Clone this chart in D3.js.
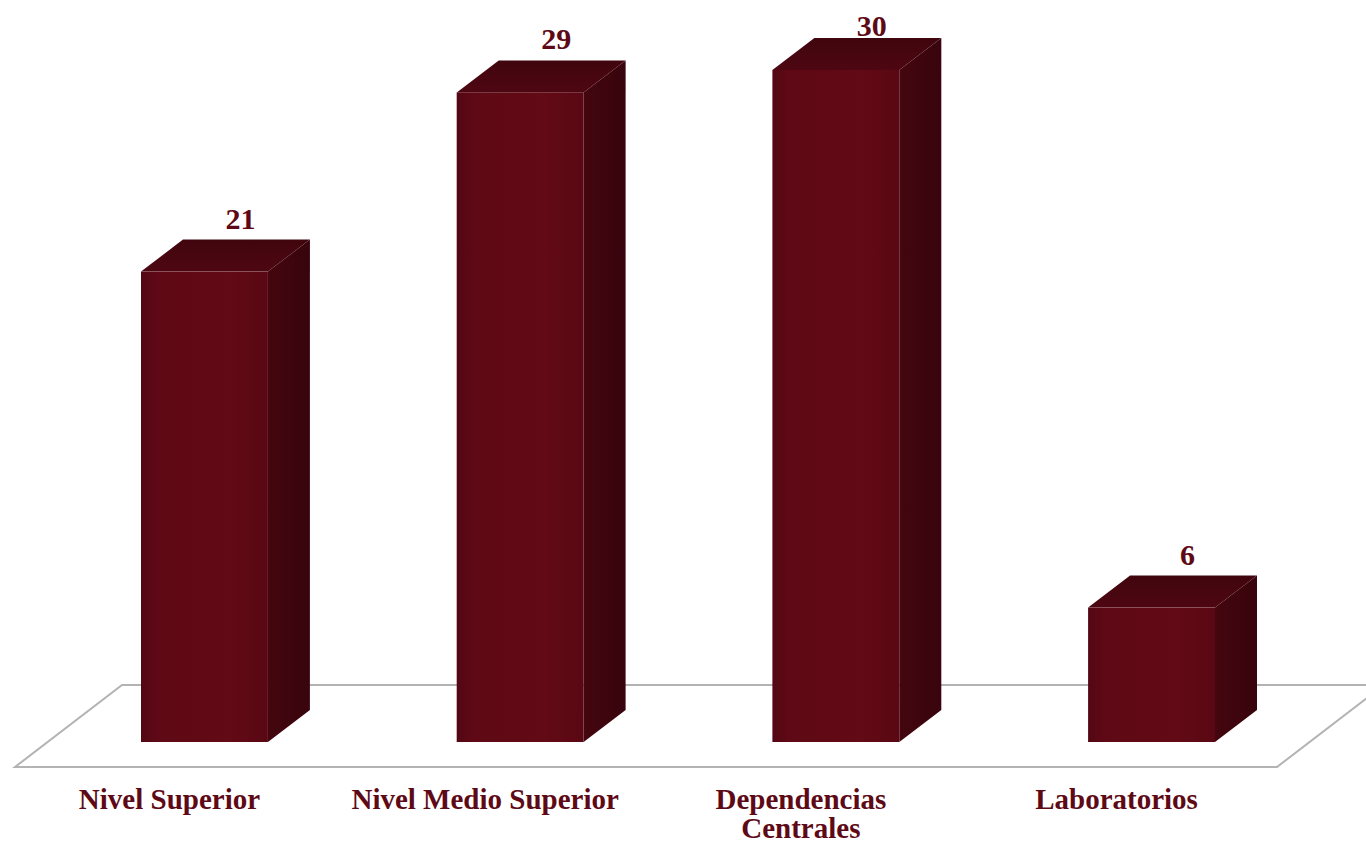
<!DOCTYPE html>
<html>
<head>
<meta charset="utf-8">
<script src="https://cdn.jsdelivr.net/npm/d3@7"></script>
<style>
  html, body { margin: 0; padding: 0; background: #fff; overflow: hidden; }
  svg { display: block; }
  .lbl { font-family: "Liberation Serif", "Times New Roman", serif; font-weight: bold; fill: #5e0a16; }
</style>
</head>
<body>
<div id="chart"></div>
<script>
// 3D-style column chart: four categories on a grey floor plane
const categories = ['Nivel Superior', 'Nivel Medio Superior', 'Dependencias Centrales', 'Laboratorios'];
const categoryLines = [['Nivel Superior'], ['Nivel Medio Superior'], ['Dependencias', 'Centrales'], ['Laboratorios']];
const values = [21, 29, 30, 6];

const W = 1366, H = 845;
const DEPTH_X = 42, DEPTH_Y = -32;

const svg = d3.select('#chart').append('svg').attr('width', W).attr('height', H);

const x = d3.scaleBand().domain(categories).range([141, 1215]).paddingInner(0.598).paddingOuter(0);
const y = d3.scaleLinear().domain([0, 30]).range([742, 70]);

const defs = svg.append('defs');
const frontGrad = defs.append('linearGradient').attr('id', 'front').attr('x1', 0).attr('x2', 1).attr('y1', 0).attr('y2', 0);
frontGrad.append('stop').attr('offset', 0).attr('stop-color', '#530713');
frontGrad.append('stop').attr('offset', 0.12).attr('stop-color', '#5e0915');
frontGrad.append('stop').attr('offset', 0.7).attr('stop-color', '#620a16');
frontGrad.append('stop').attr('offset', 1).attr('stop-color', '#590813');
const sideGrad = defs.append('linearGradient').attr('id', 'side').attr('x1', 0).attr('x2', 1).attr('y1', 0).attr('y2', 0);
sideGrad.append('stop').attr('offset', 0).attr('stop-color', '#44060f');
sideGrad.append('stop').attr('offset', 1).attr('stop-color', '#38040d');
const topGrad = defs.append('linearGradient').attr('id', 'topface').attr('x1', 0).attr('x2', 0).attr('y1', 1).attr('y2', 0);
topGrad.append('stop').attr('offset', 0).attr('stop-color', '#4e0712');
topGrad.append('stop').attr('offset', 1).attr('stop-color', '#40050e');

// floor plane
const [r0, r1] = x.range();
const base = y(0);
const floorFront = base + 25, floorBack = base - 57;
const floorSlant = 107;
const floorPts = [
  [r0 - 126, floorFront], [r1 + 62, floorFront],
  [r1 + 62 + floorSlant, floorBack], [r0 - 126 + floorSlant, floorBack]
];
svg.append('polygon')
  .attr('points', floorPts.map(p => p.join(',')).join(' '))
  .attr('fill', '#ffffff')
  .attr('stroke', '#b3b3b3')
  .attr('stroke-width', 2);

const data = categories.map((c, i) => ({ c, v: values[i], lines: categoryLines[i] }));

const bars = svg.selectAll('g.bar').data(data).join('g').attr('class', 'bar');

bars.append('polygon') // side face
  .attr('points', d => {
    const x1 = x(d.c) + x.bandwidth(), yt = y(d.v);
    return [[x1, base], [x1, yt], [x1 + DEPTH_X, yt + DEPTH_Y], [x1 + DEPTH_X, base + DEPTH_Y]].map(p => p.join(',')).join(' ');
  })
  .attr('fill', 'url(#side)');

bars.append('polygon') // top face
  .attr('points', d => {
    const x0 = x(d.c), x1 = x0 + x.bandwidth(), yt = y(d.v);
    return [[x0, yt], [x1, yt], [x1 + DEPTH_X, yt + DEPTH_Y], [x0 + DEPTH_X, yt + DEPTH_Y]].map(p => p.join(',')).join(' ');
  })
  .attr('fill', 'url(#topface)');

bars.append('rect') // front face
  .attr('x', d => x(d.c))
  .attr('y', d => y(d.v))
  .attr('width', x.bandwidth())
  .attr('height', d => base - y(d.v))
  .attr('fill', 'url(#front)');

// value labels above the top face
bars.append('text')
  .attr('class', 'lbl')
  .attr('x', d => x(d.c) + x.bandwidth() / 2 + 36)
  .attr('y', d => Math.max(y(d.v) + DEPTH_Y - 11, 36))
  .attr('text-anchor', 'middle')
  .attr('font-size', 30)
  .text(d => d.v);

// category labels under the floor
const cat = svg.selectAll('text.cat').data(data).join('text')
  .attr('class', 'lbl cat')
  .attr('text-anchor', 'middle')
  .attr('font-size', 29)
  .attr('x', d => x(d.c) + x.bandwidth() / 2 - 35)
  .attr('y', 809);
cat.selectAll('tspan').data(d => d.lines.map(t => ({ t, cx: x(d.c) + x.bandwidth() / 2 - 35 }))).join('tspan')
  .attr('x', t => t.cx)
  .attr('dy', (t, i) => i === 0 ? 0 : 29)
  .text(t => t.t);
</script>
</body>
</html>
